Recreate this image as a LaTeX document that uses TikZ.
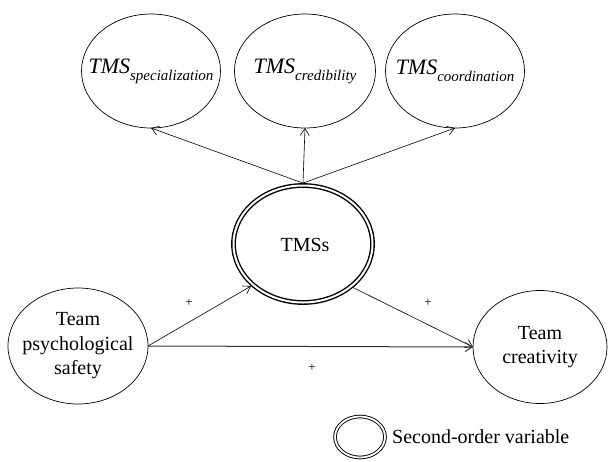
\documentclass[tikz,border=0pt]{standalone}
\usepackage{fontspec}
\setmainfont{Liberation Serif}
\usetikzlibrary{shapes.geometric,arrows.meta}
\newcommand\tmslab[1]{{\fontsize{22}{22}\selectfont\itshape TMS}\raisebox{-7pt}{\fontsize{15}{15}\selectfont\itshape #1}}
\begin{document}
\begin{tikzpicture}[x=1pt,y=-1pt,
  var/.style={ellipse, draw, line width=0.7pt, inner sep=0pt, outer sep=0pt},
  second/.style={ellipse, draw, double, line width=1.4pt, double distance=2pt,
    inner sep=0pt, outer sep=2.4pt},
  legendvar/.style={ellipse, draw, double, line width=0.9pt, double distance=1.8pt,
    inner sep=0pt, outer sep=1.8pt},
  lab/.style={inner sep=0pt, font=\fontsize{20}{24.5}\selectfont, align=center},
  conn/.style={-{Straight Barb[length=7pt,width=9pt]}, line width=0.6pt},
  plus/.style={font=\fontsize{13}{13}\selectfont, inner sep=0pt}]
\useasboundingbox (0,0) rectangle (609,461);

\node[var, minimum width=139pt, minimum height=114pt] (spec) at (151,71) {};
\node[var, minimum width=141pt, minimum height=114pt] (cred) at (305,71) {};
\node[var, minimum width=139pt, minimum height=114pt] (coord) at (455,71) {};
\node[lab] (spect) at (spec) {\tmslab{specialization}};
\node[lab] (credt) at (cred) {\tmslab{credibility}};
\node[lab] (coordt) at (coord) {\tmslab{coordination}};

\node[second, minimum width=139pt, minimum height=117pt] (tms) at (303,244) {};
\node[lab] (tmst) at (305,245) {TMSs};

\node[var, minimum width=140pt, minimum height=116pt] (psy) at (78,346) {};
\node[lab] (psyt) at (psy) {Team\\psychological\\safety};
\node[var, minimum width=134pt, minimum height=113pt] (cre) at (540,347) {};
\node[lab] (cret) at (cre) {Team\\creativity};

\draw[conn] (tms.north) -- (spec.south);
\draw[conn] (tms.north) -- (cred.south);
\draw[conn] (tms.north) -- (coord.south);

\draw[conn] (psy.east) -- (tms.219);
\draw[conn] (tms.319) -- (cre.west);
\draw[conn, line width=1pt, black!80] (psy.east) -- (cre.west);

\node[plus] (p1) at (189,303) {+};
\node[plus] (p2) at (428,303) {+};
\node[plus] (p3) at (312,368) {+};

\node[legendvar, minimum width=50pt, minimum height=41pt] (leg) at (360,437) {};
\node[anchor=west, inner sep=0pt, font=\fontsize{20}{24}\selectfont] (legtext) at (392,437) {Second-order variable};
\end{tikzpicture}
\end{document}
